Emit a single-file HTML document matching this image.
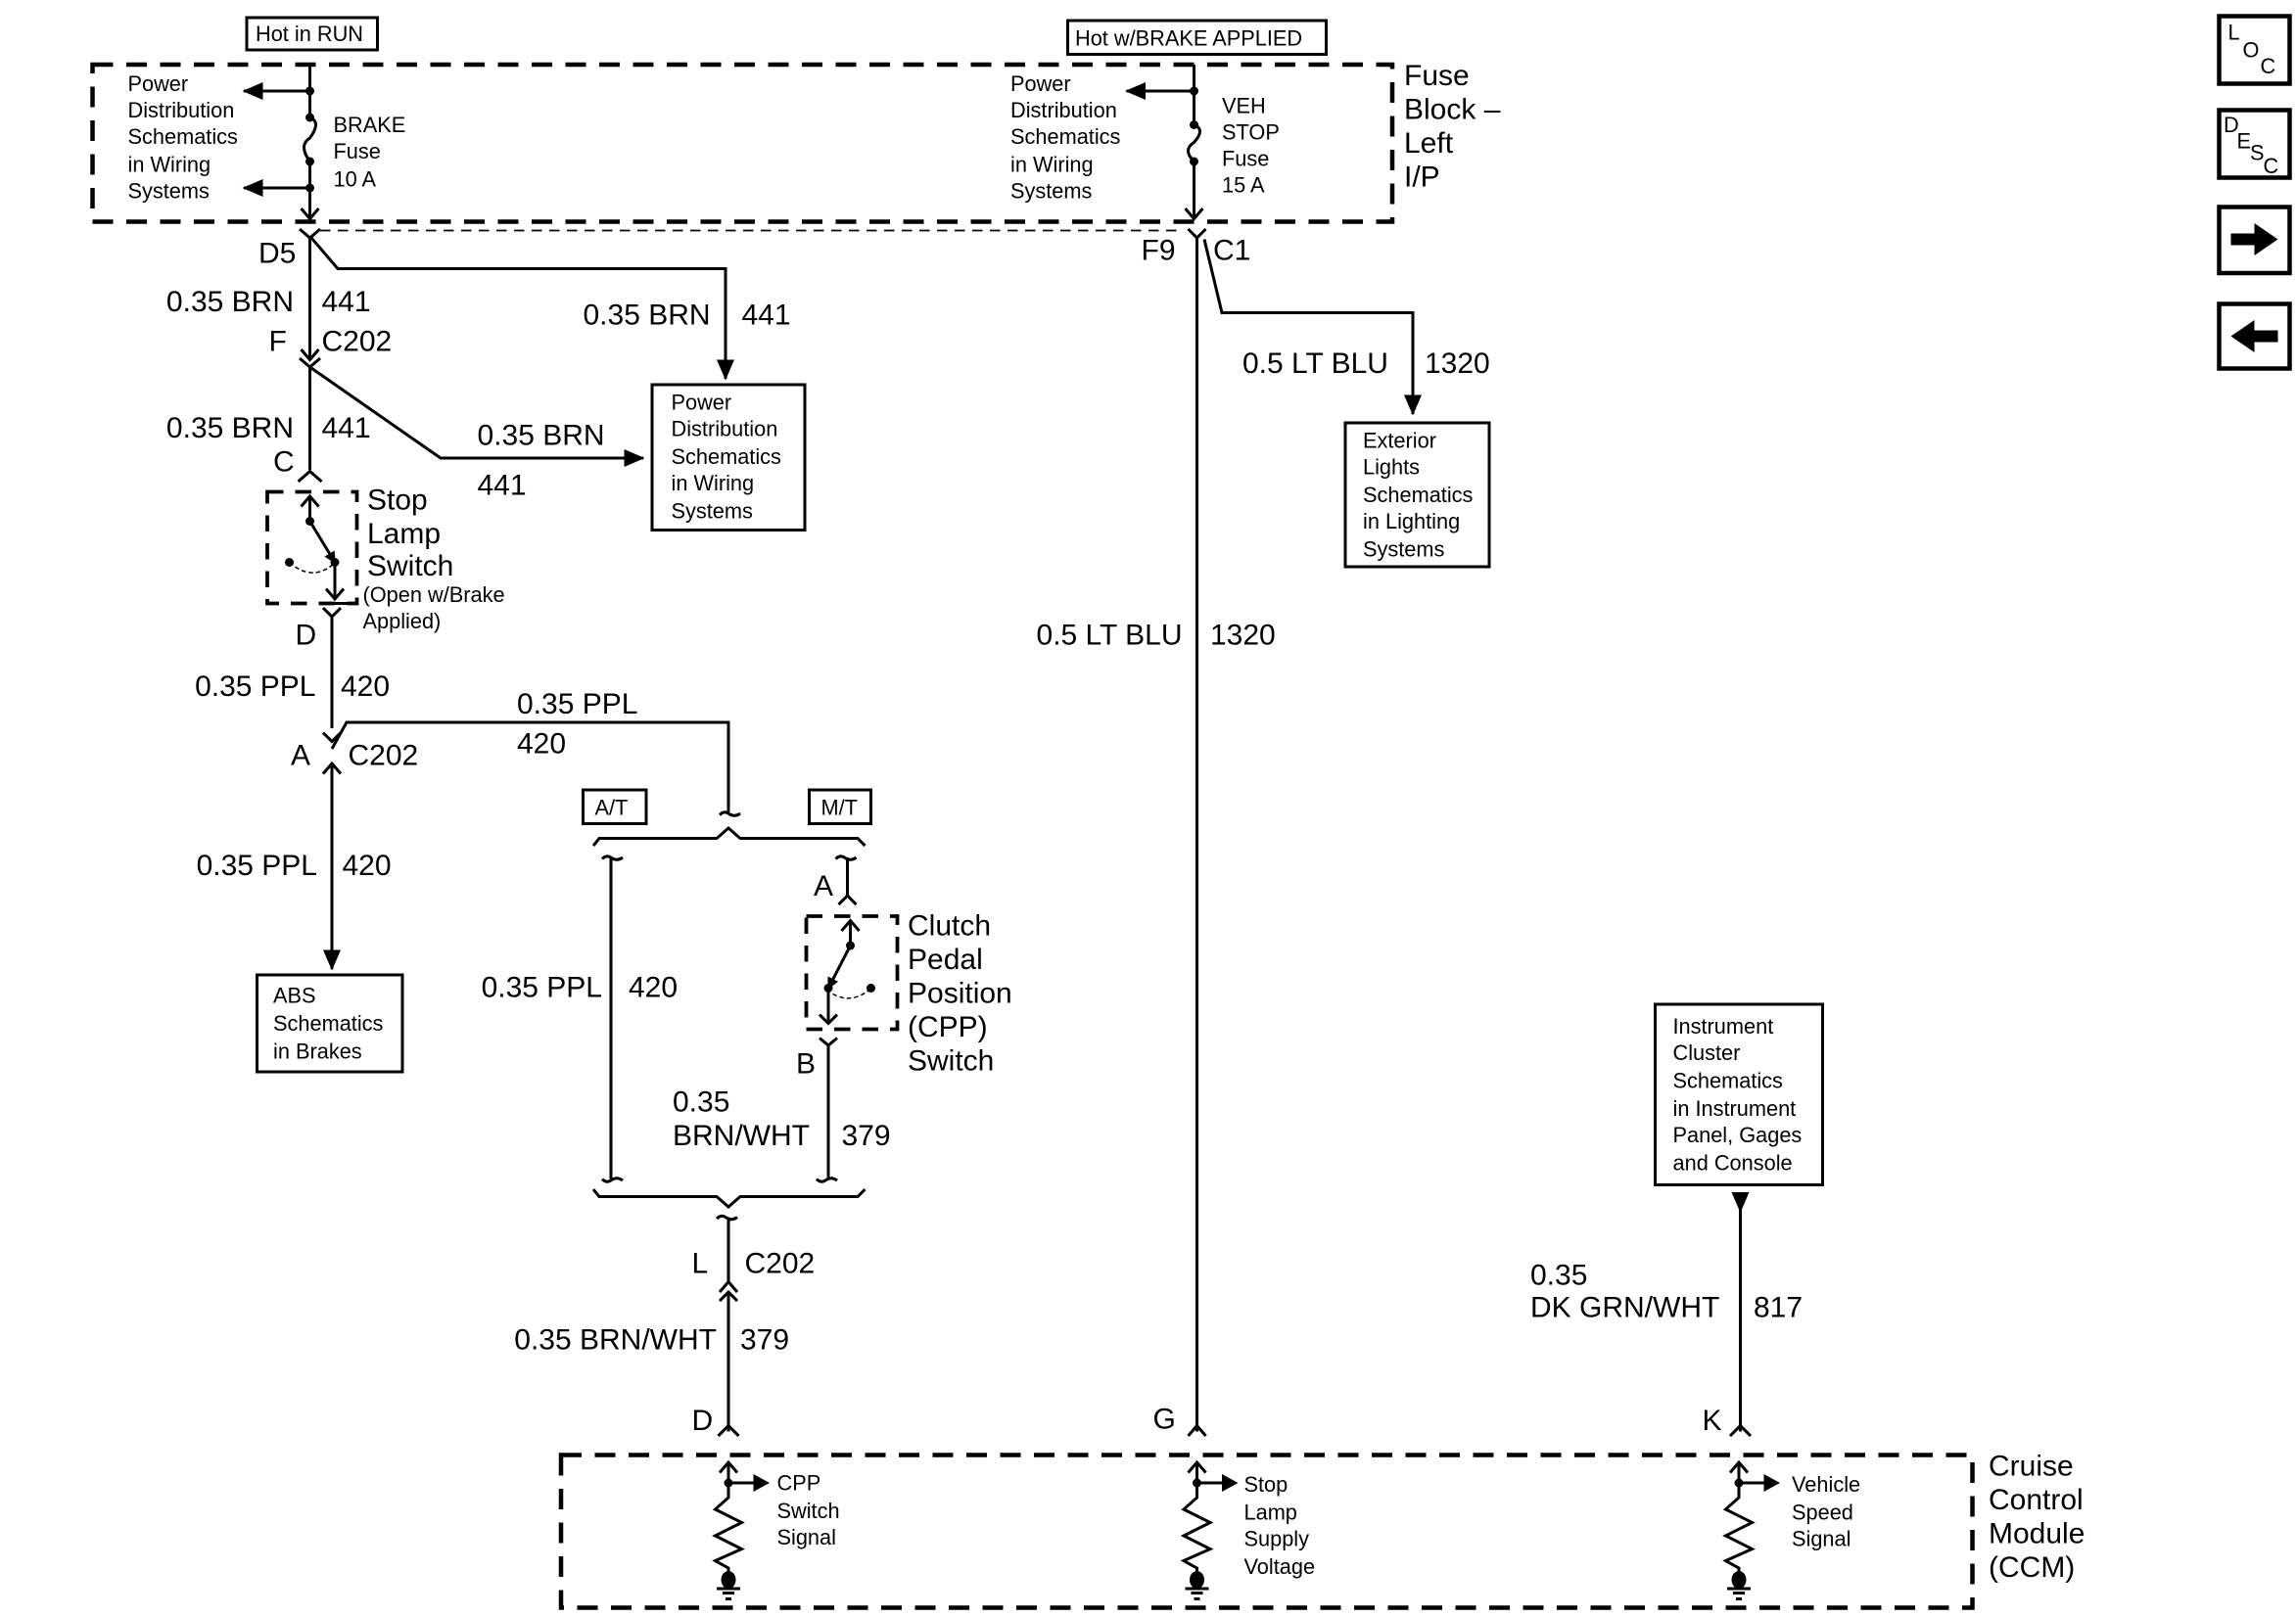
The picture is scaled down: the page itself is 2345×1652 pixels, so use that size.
<!DOCTYPE html>
<html><head><meta charset="utf-8"><style>
html,body{margin:0;padding:0;background:#fff;}
svg{display:block;}
text{font-family:"Liberation Sans",Arial,sans-serif;fill:#000;}
.b{font-size:20px;}
.s{font-size:14.5px;}
</style></head><body>
<svg width="2345" height="1652" viewBox="0 0 1563.33 1101.33" xmlns="http://www.w3.org/2000/svg">
<defs>
<marker id="ah" markerWidth="8" markerHeight="8" refX="7" refY="4" orient="auto" markerUnits="userSpaceOnUse" viewBox="0 0 8 8"><path d="M0,0 L8,4 L0,8 z" fill="#000"/></marker>
<marker id="ahb" markerWidth="14" markerHeight="12" refX="13" refY="6" orient="auto" markerUnits="userSpaceOnUse" viewBox="0 0 14 12"><path d="M0,0 L14,6 L0,12 z" fill="#000"/></marker>
</defs>
<g fill="none" stroke="#000" stroke-width="2">
<rect x="168" y="12" width="89" height="22"/>
<rect x="727" y="14" width="176" height="23"/>
<rect x="63" y="44" width="885" height="107" stroke-width="3" stroke-dasharray="14,9"/>
<line x1="218" y1="157" x2="805" y2="157" stroke-width="1.2" stroke-dasharray="7,5"/>
<path d="M211 44 V80 M211 110 V148"/>
<path d="M211 80 q8 3 0 14 q-8 5 0 16"/>
<line x1="211" y1="62" x2="166" y2="62" marker-end="url(#ahb)"/>
<line x1="211" y1="128" x2="166" y2="128" marker-end="url(#ahb)"/>
<path d="M205 142 L211 149 L217 142"/>
<path d="M813 44 V85 M813 110 V148"/>
<path d="M813 85 q8 3 0 12 q-8 5 0 13"/>
<line x1="813" y1="62" x2="767" y2="62" marker-end="url(#ahb)"/>
<path d="M807 142 L813 149 L819 142"/>
<path d="M204 156 L211 162 L218 156"/>
<path d="M211 162 V245"/>
<path d="M205 238 L211 245 L217 238"/>
<path d="M212 162 L230 183 H494 V256" />
<line x1="494" y1="240" x2="494" y2="258" marker-end="url(#ahb)"/>
<rect x="444" y="262" width="104" height="99"/>
<path d="M204 244 L211 250 L218 244"/>
<path d="M211 250 V320 M211 250 L300 312 H425"/>
<line x1="420" y1="312" x2="438" y2="312" marker-end="url(#ahb)"/>
<path d="M203 328 L211 321 L219 328"/>
<rect x="182" y="335" width="61" height="76" stroke-width="2.5" stroke-dasharray="11,8"/>
<path d="M211 355 V338 M205 345 L211 338 L217 345"/>
<line x1="211" y1="355" x2="228" y2="383" marker-end="url(#ah)"/>
<path d="M228 383 V408 M222 401 L228 408 L234 401"/>
<path d="M218 411 H238"/>
<path d="M197 383 Q212 396 226 385" stroke-width="1" stroke-dasharray="3,2"/>
<path d="M220 414 L226 420 L232 414 M226 420 V496"/>
<path d="M226 510 L236 492 H496 V553"/>
<path d="M490 555 q3 -3 6 -1 q4 3 8 0"/>
<path d="M220 499 L226 505 L232 499"/>
<path d="M220 527 L226 520 L232 527"/>
<path d="M226 520 V650"/>
<line x1="226" y1="640" x2="226" y2="660" marker-end="url(#ahb)"/>
<rect x="175" y="664" width="99" height="66"/>
<rect x="397" y="538" width="43" height="23"/>
<rect x="551" y="538" width="42" height="23"/>
<path d="M404 576 L408 571 H488 L496 564 L504 571 H584 L589 576"/>
<path d="M410 585 q3 -3 6 -1 q4 3 8 0 M416 584 V803"/>
<path d="M569 585 q3 -3 6 -1 q4 3 8 0 M577 584 V610"/>
<path d="M571 616 L577 610 L583 616"/>
<rect x="549" y="624" width="62" height="77" stroke-width="2.5" stroke-dasharray="11,8"/>
<path d="M579 644 V627 M573 634 L579 627 L585 634"/>
<line x1="579" y1="644" x2="564" y2="673" marker-end="url(#ah)"/>
<path d="M564 673 V697 M558 691 L564 697 L570 691"/>
<path d="M567 677 Q580 684 592 674" stroke-width="1" stroke-dasharray="3,2"/>
<path d="M558 707 L564 712 L570 707 M564 712 V803"/>
<path d="M410 803 q3 3 6 1 q4 -3 8 0"/>
<path d="M556 803 q3 3 6 1 q4 -3 8 0"/>
<path d="M404 810 L408 815 H488 L496 822 L504 815 H584 L589 810"/>
<path d="M488 830 q3 -3 6 -1 q4 3 8 0 M496 829 V873"/>
<path d="M490 880 L496 873 L502 880 M490 886 L496 880 L502 886 M496 880 V975"/>
<path d="M489 978 L496 971 L503 978"/>
<path d="M809 156 L815 162 L821 156"/>
<path d="M815 162 V975 M809 978 L815 971 L821 978"/>
<path d="M820 163 L832 213 H962 V270"/>
<line x1="962" y1="262" x2="962" y2="282" marker-end="url(#ahb)"/>
<rect x="916" y="288" width="98" height="98"/>
<rect x="1127" y="684" width="114" height="123"/>
<path d="M1185 818 V975 M1178 978 L1185 971 L1192 978"/>
<rect x="382" y="991" width="961" height="104" stroke-width="3" stroke-dasharray="14,9"/>
</g>
<path d="M1179 812 H1191 L1185 826 z" fill="#000"/>
<g fill="#000">
<circle cx="211" cy="62" r="3"/><circle cx="211" cy="80" r="3"/><circle cx="211" cy="110" r="3"/><circle cx="211" cy="128" r="3"/>
<circle cx="813" cy="62" r="3"/><circle cx="813" cy="85" r="3"/><circle cx="813" cy="110" r="3"/>
<circle cx="211" cy="355" r="3"/><circle cx="228" cy="383" r="3"/><circle cx="197" cy="383" r="3"/>
<circle cx="579" cy="644" r="3"/><circle cx="564" cy="673" r="3"/><circle cx="593" cy="673" r="3"/>
</g>
<g id="c1" fill="none" stroke="#000" stroke-width="2">
<path d="M496 1010 V996 M490 1003 L496 996 L502 1003"/>
<path d="M496 1010 V1020 L487 1028 L505 1037 L487 1046 L505 1055 L487 1063 L496 1068 V1072"/>
<line x1="496" y1="1010" x2="516" y2="1010"/>
<path d="M492 1085 H500 M494 1089 H498"/>
</g>
<g fill="#000"><circle cx="496" cy="1010" r="3"/><path d="M513 1004 L524 1010 L513 1016 z"/><ellipse cx="496" cy="1076" rx="5" ry="6"/><rect x="488" y="1081" width="16" height="2"/></g>
<use href="#c1" x="319"/>
<g fill="#000"><circle cx="815" cy="1010" r="3"/><path d="M832 1004 L843 1010 L832 1016 z"/><ellipse cx="815" cy="1076" rx="5" ry="6"/><rect x="807" y="1081" width="16" height="2"/></g>
<use href="#c1" x="688"/>
<g fill="#000"><circle cx="1184" cy="1010" r="3"/><path d="M1201 1004 L1212 1010 L1201 1016 z"/><ellipse cx="1184" cy="1076" rx="5" ry="6"/><rect x="1176" y="1081" width="16" height="2"/></g>
<g fill="none" stroke="#000" stroke-width="3">
<rect x="1511" y="11" width="48" height="46"/>
<rect x="1511" y="75" width="48" height="46"/>
<rect x="1511" y="141" width="48" height="45"/>
<rect x="1511" y="207" width="48" height="44"/>
</g>
<path d="M1519 159 H1535 V152 L1551 163 L1535 174 V167 H1519 z" fill="#000"/>
<path d="M1551 225 H1535 V218 L1519 229 L1535 240 V233 H1551 z" fill="#000"/>
<text x="1517" y="27" class="s">L</text><text x="1527" y="39" class="s">O</text><text x="1539" y="50" class="s">C</text>
<text x="1514" y="90" class="s">D</text><text x="1523" y="101" class="s">E</text><text x="1532" y="109" class="s">S</text><text x="1541" y="118" class="s">C</text>
<g class="s">
<text x="174" y="28">Hot in RUN</text>
<text x="732" y="31">Hot w/BRAKE APPLIED</text>
<text x="87" y="62">Power</text><text x="87" y="80">Distribution</text><text x="87" y="98">Schematics</text><text x="87" y="117">in Wiring</text><text x="87" y="135">Systems</text>
<text x="227" y="90">BRAKE</text><text x="227" y="108">Fuse</text><text x="227" y="127">10 A</text>
<text x="688" y="62">Power</text><text x="688" y="80">Distribution</text><text x="688" y="98">Schematics</text><text x="688" y="117">in Wiring</text><text x="688" y="135">Systems</text>
<text x="832" y="77">VEH</text><text x="832" y="95">STOP</text><text x="832" y="113">Fuse</text><text x="832" y="131">15 A</text>
<text x="457" y="279">Power</text><text x="457" y="297">Distribution</text><text x="457" y="316">Schematics</text><text x="457" y="334">in Wiring</text><text x="457" y="353">Systems</text>
<text x="247" y="410">(Open w/Brake</text><text x="247" y="428">Applied)</text>
<text x="928" y="305">Exterior</text><text x="928" y="323">Lights</text><text x="928" y="342">Schematics</text><text x="928" y="360">in Lighting</text><text x="928" y="379">Systems</text>
<text x="186" y="683">ABS</text><text x="186" y="702">Schematics</text><text x="186" y="721">in Brakes</text>
<text x="405" y="555">A/T</text><text x="559" y="555">M/T</text>
<text x="1139" y="704">Instrument</text><text x="1139" y="722">Cluster</text><text x="1139" y="741">Schematics</text><text x="1139" y="760">in Instrument</text><text x="1139" y="778">Panel, Gages</text><text x="1139" y="797">and Console</text>
<text x="529" y="1015">CPP</text><text x="529" y="1034">Switch</text><text x="529" y="1052">Signal</text>
<text x="847" y="1016">Stop</text><text x="847" y="1035">Lamp</text><text x="847" y="1053">Supply</text><text x="847" y="1072">Voltage</text>
<text x="1220" y="1016">Vehicle</text><text x="1220" y="1035">Speed</text><text x="1220" y="1053">Signal</text>
</g>
<g class="b">
<text x="956" y="58">Fuse</text><text x="956" y="81">Block –</text><text x="956" y="104">Left</text><text x="956" y="127">I/P</text>
<text x="176" y="179">D5</text>
<text x="200" y="212" text-anchor="end">0.35 BRN</text><text x="219" y="212">441</text>
<text x="183" y="239">F</text><text x="219" y="239">C202</text>
<text x="397" y="221">0.35 BRN</text><text x="505" y="221">441</text>
<text x="200" y="298" text-anchor="end">0.35 BRN</text><text x="219" y="298">441</text>
<text x="325" y="303">0.35 BRN</text><text x="325" y="337">441</text>
<text x="186" y="321">C</text>
<text x="250" y="347">Stop</text><text x="250" y="370">Lamp</text><text x="250" y="392">Switch</text>
<text x="201" y="439">D</text>
<text x="215" y="474" text-anchor="end">0.35 PPL</text><text x="232" y="474">420</text>
<text x="352" y="486">0.35 PPL</text><text x="352" y="513">420</text>
<text x="198" y="521">A</text><text x="237" y="521">C202</text>
<text x="216" y="596" text-anchor="end">0.35 PPL</text><text x="233" y="596">420</text>
<text x="554" y="610">A</text>
<text x="618" y="637">Clutch</text><text x="618" y="660">Pedal</text><text x="618" y="683">Position</text><text x="618" y="706">(CPP)</text><text x="618" y="729">Switch</text>
<text x="410" y="679" text-anchor="end">0.35 PPL</text><text x="428" y="679">420</text>
<text x="542" y="731">B</text>
<text x="458" y="757">0.35</text><text x="458" y="780">BRN/WHT</text><text x="573" y="780">379</text>
<text x="471" y="867">L</text><text x="507" y="867">C202</text>
<text x="488" y="919" text-anchor="end">0.35 BRN/WHT</text><text x="504" y="919">379</text>
<text x="471" y="974">D</text>
<text x="777" y="177">F9</text><text x="826" y="177">C1</text>
<text x="846" y="254">0.5 LT BLU</text><text x="970" y="254">1320</text>
<text x="805" y="439" text-anchor="end">0.5 LT BLU</text><text x="824" y="439">1320</text>
<text x="785" y="973">G</text>
<text x="1042" y="875">0.35</text><text x="1042" y="897">DK GRN/WHT</text><text x="1194" y="897">817</text>
<text x="1159" y="974">K</text>
<text x="1354" y="1005">Cruise</text><text x="1354" y="1028">Control</text><text x="1354" y="1051">Module</text><text x="1354" y="1074">(CCM)</text>
</g>
</svg>
</body></html>
